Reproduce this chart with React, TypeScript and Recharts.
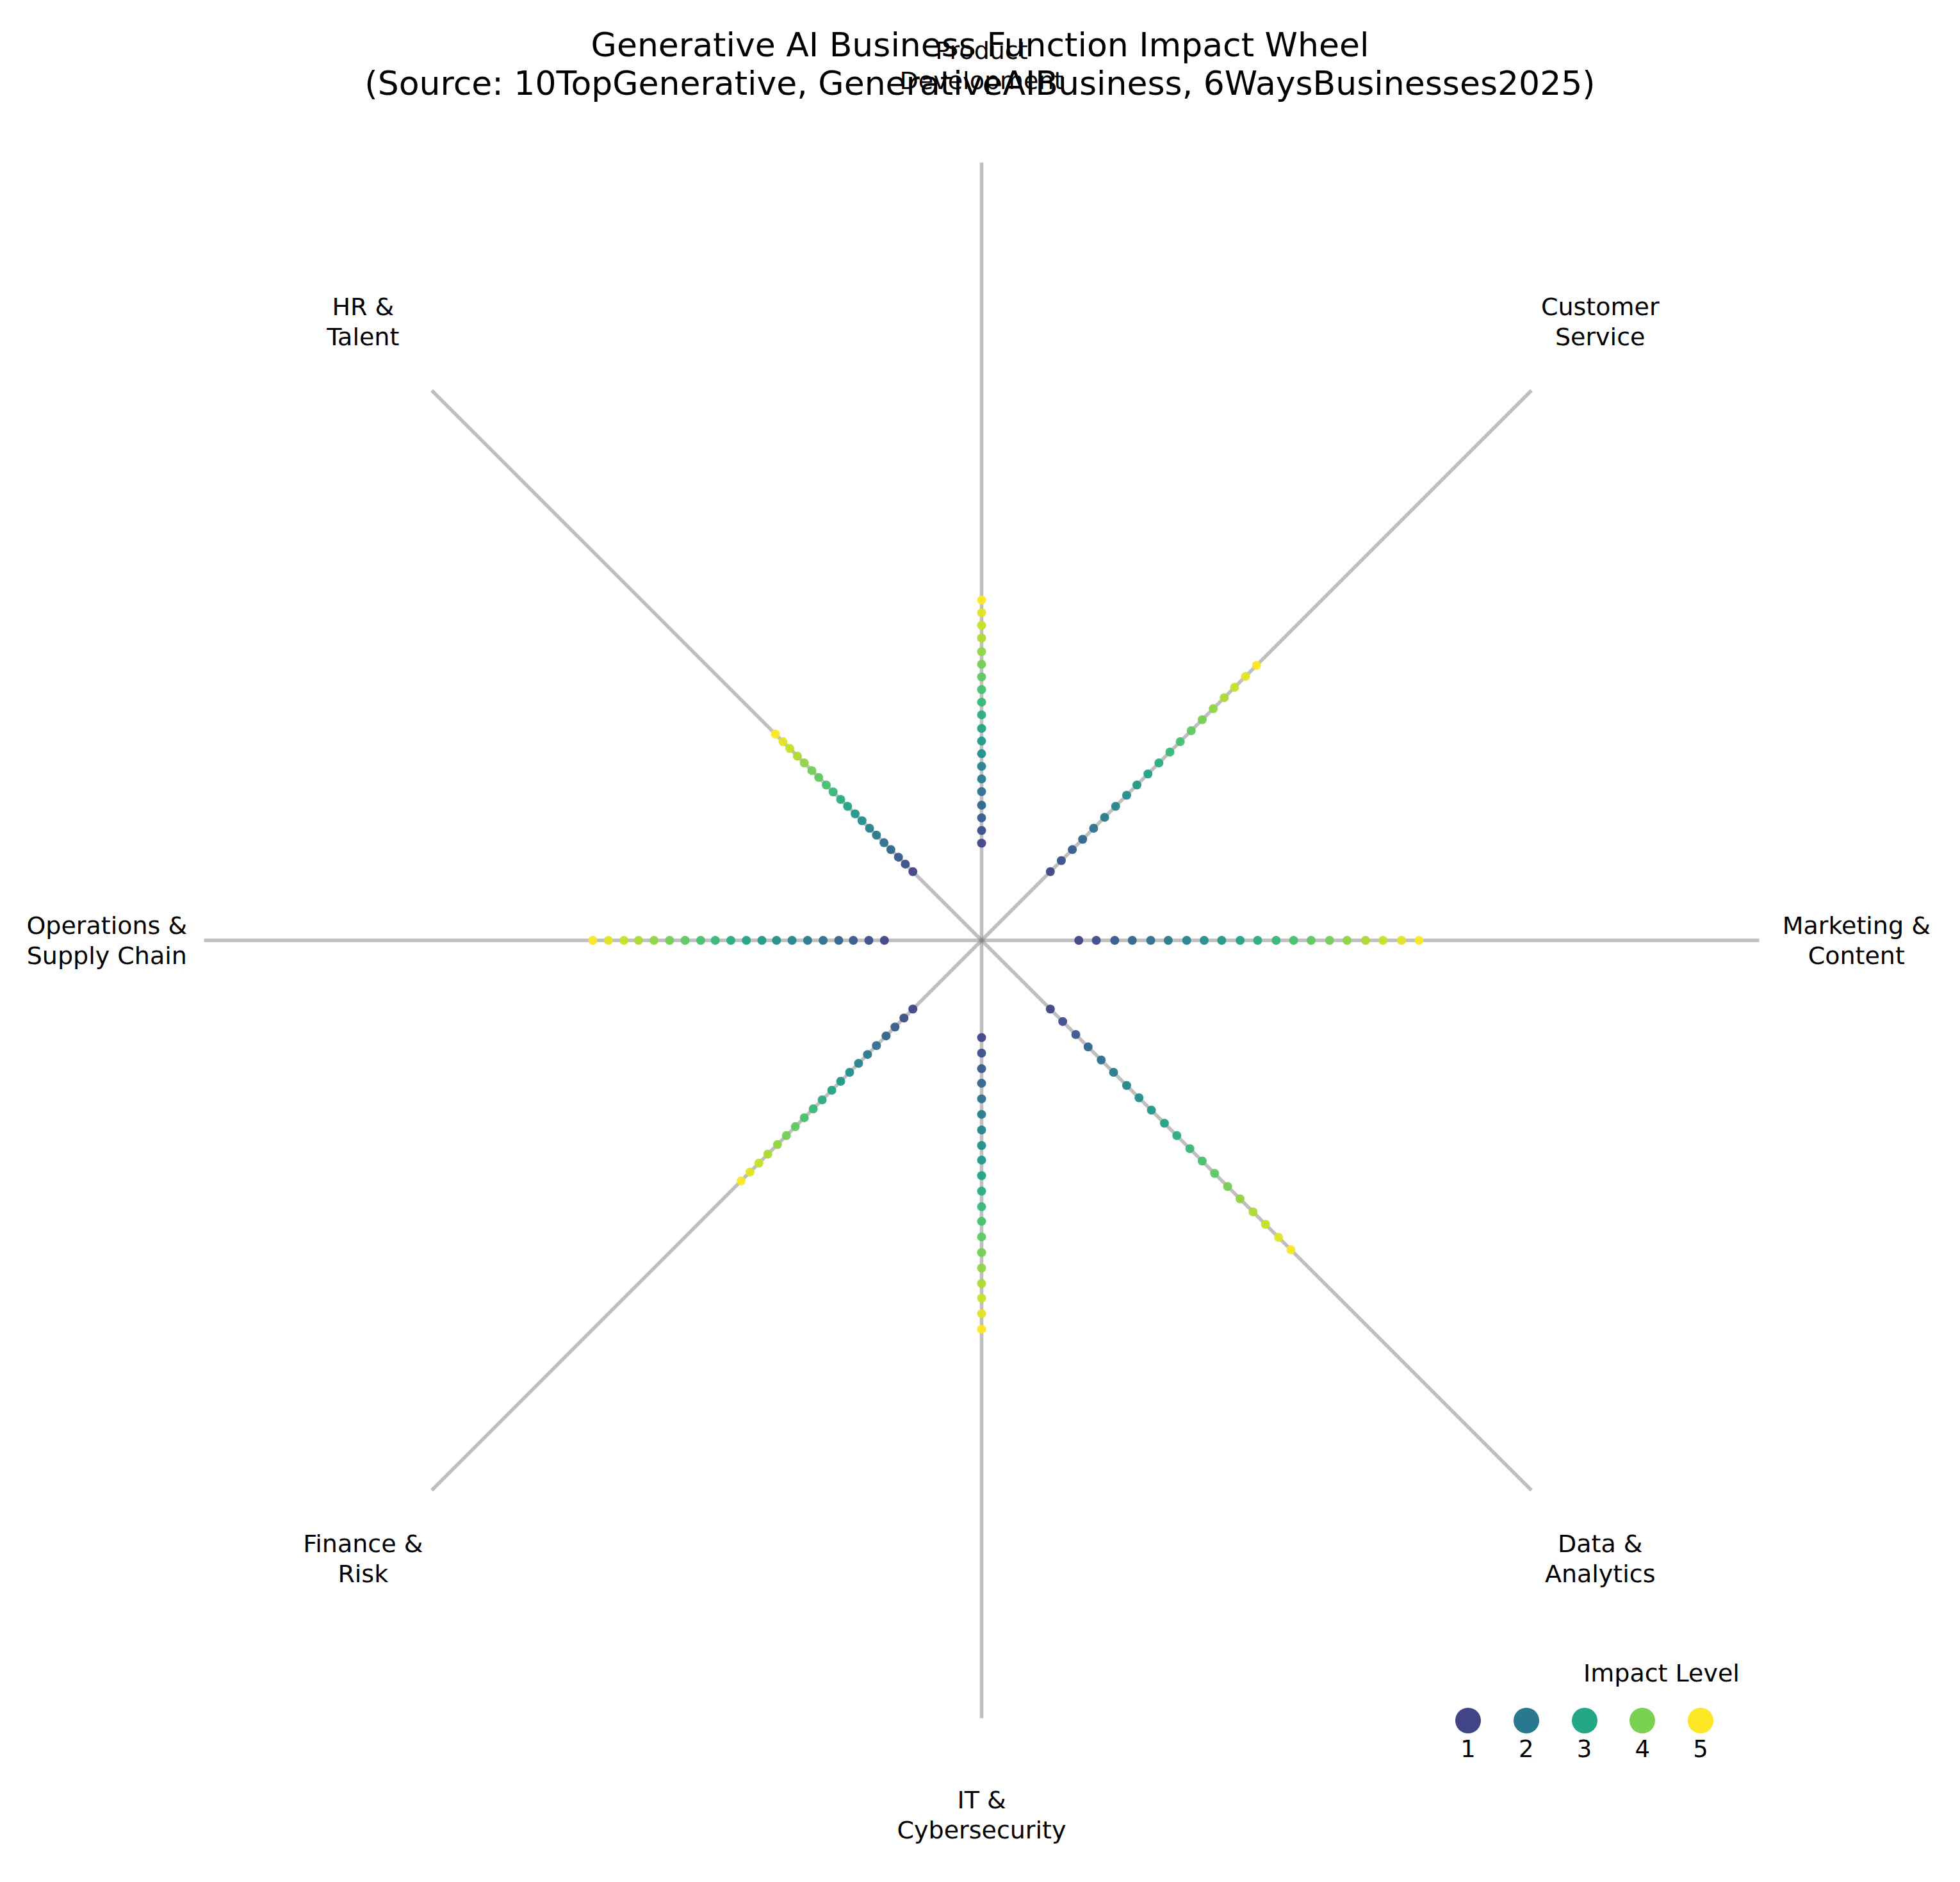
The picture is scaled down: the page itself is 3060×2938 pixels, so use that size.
import { ScatterChart, Scatter, XAxis, YAxis } from "recharts";

// business functions, clockwise from the top
const functionNames = [
  "Product\nDevelopment",
  "Customer\nService",
  "Marketing &\nContent",
  "Data &\nAnalytics",
  "IT &\nCybersecurity",
  "Finance &\nRisk",
  "Operations &\nSupply Chain",
  "HR &\nTalent",
];
const functionAngles = [90, 45, 0, -45, -90, -135, 180, 135];

// impact level of the n-th dot on every spoke (inner -> outer)
const impactLevels = [
  1.0, 1.21, 1.42, 1.63, 1.84, 2.05, 2.26, 2.47, 2.68, 2.89,
  3.11, 3.32, 3.53, 3.74, 3.95, 4.16, 4.37, 4.58, 4.79, 5.0,
];

const productRadii = [1.0, 1.13, 1.26, 1.39, 1.53, 1.66, 1.79, 1.92, 2.05, 2.18, 2.32, 2.45, 2.58, 2.71, 2.84, 2.97, 3.11, 3.24, 3.37, 3.5];
const customerRadii = [1.0, 1.16, 1.32, 1.47, 1.63, 1.79, 1.95, 2.11, 2.26, 2.42, 2.58, 2.74, 2.89, 3.05, 3.21, 3.37, 3.53, 3.68, 3.84, 4.0];
const marketingRadii = [1.0, 1.18, 1.37, 1.55, 1.74, 1.92, 2.11, 2.29, 2.47, 2.66, 2.84, 3.03, 3.21, 3.39, 3.58, 3.76, 3.95, 4.13, 4.32, 4.5];
const dataRadii = [1.0, 1.18, 1.37, 1.55, 1.74, 1.92, 2.11, 2.29, 2.47, 2.66, 2.84, 3.03, 3.21, 3.39, 3.58, 3.76, 3.95, 4.13, 4.32, 4.5];
const itRadii = [1.0, 1.16, 1.32, 1.47, 1.63, 1.79, 1.95, 2.11, 2.26, 2.42, 2.58, 2.74, 2.89, 3.05, 3.21, 3.37, 3.53, 3.68, 3.84, 4.0];
const financeRadii = [1.0, 1.13, 1.26, 1.39, 1.53, 1.66, 1.79, 1.92, 2.05, 2.18, 2.32, 2.45, 2.58, 2.71, 2.84, 2.97, 3.11, 3.24, 3.37, 3.5];
const operationsRadii = [1.0, 1.16, 1.32, 1.47, 1.63, 1.79, 1.95, 2.11, 2.26, 2.42, 2.58, 2.74, 2.89, 3.05, 3.21, 3.37, 3.53, 3.68, 3.84, 4.0];
const hrRadii = [1.0, 1.11, 1.21, 1.32, 1.42, 1.53, 1.63, 1.74, 1.84, 1.95, 2.05, 2.16, 2.26, 2.37, 2.47, 2.58, 2.68, 2.79, 2.89, 3.0];

const spokeRadii = [productRadii, customerRadii, marketingRadii, dataRadii, itRadii, financeRadii, operationsRadii, hrRadii];

const legendLevels = [1, 2, 3, 4, 5];

const SPOKE_LENGTH = 8;
const LABEL_RADIUS = 9;

const FONT = "'DejaVu Sans', sans-serif";

const VIRIDIS = [
  "#440154", "#482475", "#414487", "#355f8d", "#2a788e", "#21918c",
  "#22a884", "#44bf70", "#7ad151", "#bddf26", "#fde725",
];

function viridis(t: number): string {
  const v = Math.max(0, Math.min(1, t)) * (VIRIDIS.length - 1);
  const i = Math.min(Math.floor(v), VIRIDIS.length - 2);
  const f = v - i;
  const a = VIRIDIS[i];
  const b = VIRIDIS[i + 1];
  const ch = (s: string, k: number) => parseInt(s.slice(1 + k * 2, 3 + k * 2), 16);
  const out = [0, 1, 2].map((k) => Math.round(ch(a, k) + (ch(b, k) - ch(a, k)) * f));
  return `rgb(${out[0]},${out[1]},${out[2]})`;
}

function polar(r: number, deg: number) {
  const rad = (deg * Math.PI) / 180;
  return { x: r * Math.cos(rad), y: r * Math.sin(rad) };
}

const spokes = functionAngles.map((deg) => [polar(0, deg), polar(SPOKE_LENGTH, deg)]);

const dots = spokeRadii.map((radii, s) =>
  radii.map((r, i) => ({ ...polar(r, functionAngles[s]), level: impactLevels[i] }))
);

const labels = functionNames.map((name, s) => ({ ...polar(LABEL_RADIUS, functionAngles[s]), name }));

const Dot = (props: any) => {
  const { cx, cy, payload } = props;
  return <circle cx={cx} cy={cy} r={7} fill={viridis(payload.level / 5)} fillOpacity={0.95} />;
};

const Label = (props: any) => {
  const { cx, cy, payload } = props;
  const lines = payload.name.split("\n");
  return (
    <text x={cx} y={cy} textAnchor="middle" fontSize={38} fontFamily={FONT} fill="#000">
      {lines.map((line: string, i: number) => (
        <tspan key={i} x={cx} y={cy + (i - (lines.length - 1) / 2) * 47} dominantBaseline="central">
          {line}
        </tspan>
      ))}
    </text>
  );
};

export default function App() {
  return (
    <div style={{ position: "absolute", left: 0, top: 0, width: 3060, height: 2938, background: "#fff" }}>
      <ScatterChart width={3060} height={2938} margin={{ top: 11, right: 10, bottom: 13, left: 15 }}>
        <XAxis type="number" dataKey="x" domain={[-10, 10]} hide />
        <YAxis type="number" dataKey="y" domain={[-9.6, 9.6]} hide />
        {spokes.map((seg, i) => (
          <Scatter
            key={`spoke-${i}`}
            data={seg}
            line={{ stroke: "#7f7f7f", strokeOpacity: 0.5, strokeWidth: 5.5 }}
            lineType="joint"
            shape={() => <g />}
            isAnimationActive={false}
          />
        ))}
        {dots.map((d, i) => (
          <Scatter key={`dots-${i}`} data={d} shape={Dot} isAnimationActive={false} />
        ))}
        <Scatter data={labels} shape={Label} isAnimationActive={false} />
      </ScatterChart>

      <div
        style={{
          position: "absolute",
          left: 0,
          top: 40,
          width: 3060,
          textAlign: "center",
          fontFamily: FONT,
          fontSize: 52,
          lineHeight: "60px",
          color: "#000",
          pointerEvents: "none",
        }}
      >
        Generative AI Business Function Impact Wheel
        <br />
        (Source: 10TopGenerative, GenerativeAIBusiness, 6WaysBusinesses2025)
      </div>

      <div style={{ position: "absolute", left: 2394, top: 2586, width: 400, textAlign: "center", fontFamily: FONT, fontSize: 38, lineHeight: "52px", color: "#000" }}>
        Impact Level
      </div>
      {legendLevels.map((lvl, i) => (
        <div key={lvl} style={{ position: "absolute", left: 2292 + i * 90.75 - 45, top: 2666, width: 90, textAlign: "center", fontFamily: FONT, fontSize: 37, color: "#000" }}>
          <div style={{ width: 40, height: 40, borderRadius: 20, background: viridis(lvl / 5), margin: "0 auto" }} />
          <div style={{ lineHeight: "50px", marginTop: 0 }}>{lvl}</div>
        </div>
      ))}
    </div>
  );
}
